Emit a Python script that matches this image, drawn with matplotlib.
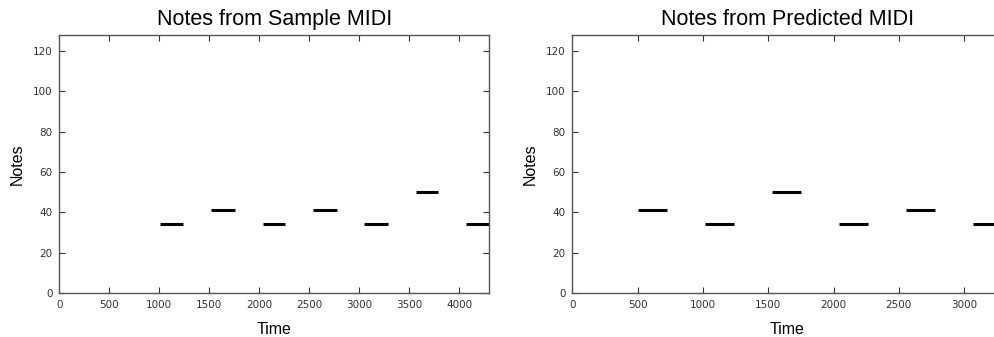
import matplotlib
matplotlib.use("Agg")
import matplotlib.pyplot as plt

# Sample MIDI notes: start, end, pitch
sample_start = [1010, 1520, 2035, 2540, 3050, 3565, 4070]
sample_end = [1240, 1755, 2260, 2775, 3285, 3790, 4300]
sample_pitch = [34, 41, 34, 41, 34, 50, 34]

# Predicted MIDI notes
pred_start = [505, 1015, 1530, 2040, 2555, 3070]
pred_end = [725, 1240, 1750, 2265, 2775, 3290]
pred_pitch = [41, 34, 50, 34, 41, 34]

fig = plt.figure(figsize=(9.94, 3.37), dpi=100)

ax1 = fig.add_axes([0.0597, 0.1306, 0.4323, 0.7656])
ax2 = fig.add_axes([0.5758, 0.1306, 0.4323, 0.7656])


def draw(ax, starts, ends, pitches, title, xmax):
    ax.hlines(pitches, starts, ends, colors="black", linewidth=2.2)
    ax.set_xlim(0, xmax)
    ax.set_ylim(0, 128)
    ax.set_yticks(range(0, 121, 20))
    ax.set_xticks(range(0, xmax, 500))
    ax.set_title(title, fontsize=15.5, family="Liberation Sans", pad=7)
    ax.set_xlabel("Time", fontsize=11.5, family="Liberation Sans", labelpad=9)
    ax.set_ylabel("Notes", fontsize=11.5, family="Liberation Sans", labelpad=6)
    ax.tick_params(direction="in", top=True, right=True, length=4,
                   width=0.8, labelsize=7.5, labelcolor="#333333",
                   color="#333333", pad=5)
    for s in ax.spines.values():
        s.set_color("#555555")
        s.set_linewidth(1.0)


draw(ax1, sample_start, sample_end, sample_pitch, "Notes from Sample MIDI", 4300)
draw(ax2, pred_start, pred_end, pred_pitch, "Notes from Predicted MIDI", 3290)

fig.savefig("out.png", dpi=100)
